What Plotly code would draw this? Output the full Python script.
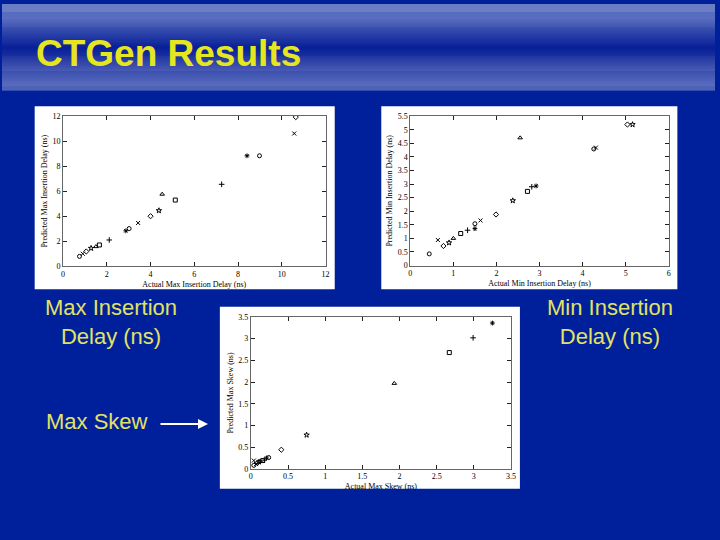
import plotly.graph_objects as go

# ---------------- data ----------------
max_ins_actual = [0.75, 0.9, 1.06, 1.28, 1.5, 1.66, 2.11, 2.87, 3.02, 3.43, 4.0, 4.38, 4.53, 5.13, 7.25, 8.41, 8.98, 10.57, 10.64]
max_ins_pred   = [0.79, 1.0, 1.18, 1.44, 1.57, 1.70, 2.10, 2.83, 3.01, 3.46, 4.0, 4.45, 5.76, 5.29, 6.55, 8.83, 8.83, 10.61, 11.92]

min_ins_actual = [0.44, 0.64, 0.77, 0.90, 1.00, 1.17, 1.33, 1.50, 1.50, 1.63, 1.99, 2.38, 2.55, 2.72, 2.82, 2.92, 4.26, 4.31, 5.04, 5.16]
min_ins_pred   = [0.43, 0.94, 0.72, 0.84, 1.00, 1.18, 1.30, 1.36, 1.54, 1.66, 1.88, 2.39, 4.70, 2.73, 2.90, 2.93, 4.29, 4.34, 5.19, 5.19]

max_skew_actual = [0.04, 0.07, 0.09, 0.11, 0.13, 0.16, 0.18, 0.21, 0.24, 0.04, 0.41, 0.75, 1.93, 2.67, 2.99, 3.25]
max_skew_pred   = [0.08, 0.11, 0.14, 0.16, 0.17, 0.19, 0.20, 0.25, 0.26, 0.19, 0.44, 0.78, 1.97, 2.68, 3.02, 3.36]

x1_ticks = [0, 2, 4, 6, 8, 10, 12]
y1_ticks = [0, 2, 4, 6, 8, 10, 12]
x2_ticks = [0, 1, 2, 3, 4, 5, 6]
y2_ticks = [0, 0.5, 1, 1.5, 2, 2.5, 3, 3.5, 4, 4.5, 5, 5.5]
x3_ticks = [0, 0.5, 1, 1.5, 2, 2.5, 3, 3.5]
y3_ticks = [0, 0.5, 1, 1.5, 2, 2.5, 3, 3.5]

title_text = "CTGen Results"
W, H = 720, 540
BODY = "#00209b"
TXT = "#e2e264"

symbols = ['circle-open', 'x-thin-open', 'diamond-open', 'star-open', 'triangle-up-open',
           'square-open', 'cross-thin-open', 'asterisk-open']


def px(x):
    return x / W


def py(y):
    return 1 - y / H


fig = go.Figure()

panels = [
    dict(x=max_ins_actual, y=max_ins_pred, xa='x', ya='y'),
    dict(x=min_ins_actual, y=min_ins_pred, xa='x2', ya='y2'),
    dict(x=max_skew_actual, y=max_skew_pred, xa='x3', ya='y3'),
]
for p in panels:
    fig.add_trace(go.Scatter(
        x=p['x'], y=p['y'], xaxis=p['xa'], yaxis=p['ya'], mode='markers',
        marker=dict(symbol=[symbols[i % len(symbols)] for i in range(len(p['x']))],
                    size=4, color='black', line=dict(color='black', width=1)),
        showlegend=False, hoverinfo='skip'))

tickfont = dict(family="Liberation Serif", size=8, color="black")
titlefont = dict(family="Liberation Serif", size=8, color="black")


def ax(domain, rng, ticks, title, anchor):
    return dict(domain=domain, range=rng, tickvals=ticks, ticks='inside', ticklen=4,
                tickcolor='#222', mirror='ticks', showline=True, linecolor='#666', linewidth=0.8,
                showgrid=False, zeroline=False, tickfont=tickfont,
                title=dict(text=title, font=titlefont, standoff=3), anchor=anchor)


layout_axes = dict(
    xaxis=ax([px(61.7), px(326.7)], [0, 12], x1_ticks, "Actual Max Insertion Delay (ns)", 'y'),
    yaxis=ax([py(266.7), py(114)], [0, 12], y1_ticks, "Predicted Max Insertion Delay (ns)", 'x'),
    xaxis2=ax([px(412.3), px(673.3)], [0, 6], x2_ticks, "Actual Min Insertion Delay (ns)", 'y2'),
    yaxis2=ax([py(266), py(114)], [0, 5.5], y2_ticks, "Predicted Min Insertion Delay (ns)", 'x2'),
    xaxis3=ax([px(251.3), px(514)], [0, 3.5], x3_ticks, "Actual Max Skew (ns)", 'y3'),
    yaxis3=ax([py(472.7), py(318.3)], [0, 3.5], y3_ticks, "Predicted Max Skew (ns)", 'x3'),
)

shapes = []
# header gradient
stops = [(0, (107, 124, 196)), (14, (110, 128, 200)), (44, (10, 31, 150)),
         (80, (106, 122, 195)), (88, (104, 120, 192))]
for yy in range(0, 88):
    c = stops[-1][1]
    for (a, ca), (b, cb) in zip(stops[:-1], stops[1:]):
        if a <= yy < b:
            t = (yy - a) / (b - a)
            c = tuple(int(round(ca[k] + (cb[k] - ca[k]) * t)) for k in range(3))
            break
    shapes.append(dict(type='rect', xref='paper', yref='paper', x0=0, x1=1,
                       y0=py(yy + 1.02), y1=py(yy), fillcolor='rgb(%d,%d,%d)' % c,
                       line=dict(width=0), layer='below'))
# white panels
for (x0, y0, x1, y1) in [(33, 104, 336, 290), (383, 104, 682, 290), (220, 308, 523, 493)]:
    shapes.append(dict(type='rect', xref='paper', yref='paper', x0=px(x0), x1=px(x1),
                       y0=py(y1), y1=py(y0), fillcolor='white', line=dict(width=0), layer='below'))

lab = dict(family="Liberation Sans", size=22, color=TXT)
annotations = [
    dict(text="<b>" + title_text + "</b>", x=px(32), y=py(50), xref='paper', yref='paper',
         xanchor='left', yanchor='middle', showarrow=False,
         font=dict(family="Liberation Sans", size=37, color="#e6e61e")),
    dict(text="Max Insertion<br>Delay (ns)", x=px(110), y=py(323), xref='paper', yref='paper',
         xanchor='center', yanchor='middle', showarrow=False, font=lab, align='center'),
    dict(text="Min Insertion<br>Delay (ns)", x=px(614), y=py(323), xref='paper', yref='paper',
         xanchor='center', yanchor='middle', showarrow=False, font=lab, align='center'),
    dict(text="Max Skew", x=px(96), y=py(425), xref='paper', yref='paper',
         xanchor='center', yanchor='middle', showarrow=False, font=lab),
    dict(text="", x=px(208), y=py(427), xref='paper', yref='paper', showarrow=True,
         ax=-49, ay=0, arrowhead=2, arrowsize=1, arrowwidth=2, arrowcolor='white'),
]

fig.update_layout(width=W, height=H, margin=dict(l=0, r=0, t=0, b=0),
                  paper_bgcolor=BODY, plot_bgcolor='white',
                  shapes=shapes, annotations=annotations, **layout_axes)

fig.write_html("out.html", config={'displayModeBar': False},
               post_script="document.body.style.margin='0px';")
